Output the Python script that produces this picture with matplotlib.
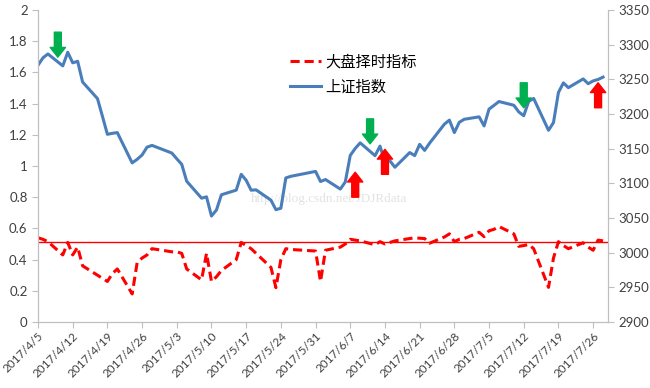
import numpy as np
import pandas as pd
import matplotlib
matplotlib.use("Agg")
import matplotlib.pyplot as plt

plt.rcParams['font.family'] = ['Lato', 'Noto Sans CJK SC', 'DejaVu Sans']

# trading days
dates = pd.to_datetime([
    "2017-04-05", "2017-04-06", "2017-04-07", "2017-04-10", "2017-04-11", "2017-04-12", "2017-04-13", "2017-04-14",
    "2017-04-17", "2017-04-18", "2017-04-19", "2017-04-20", "2017-04-21", "2017-04-24", "2017-04-25", "2017-04-26",
    "2017-04-27", "2017-04-28", "2017-05-02", "2017-05-03", "2017-05-04", "2017-05-05", "2017-05-08", "2017-05-09",
    "2017-05-10", "2017-05-11", "2017-05-12", "2017-05-15", "2017-05-16", "2017-05-17", "2017-05-18", "2017-05-19",
    "2017-05-22", "2017-05-23", "2017-05-24", "2017-05-25", "2017-05-26", "2017-05-31", "2017-06-01", "2017-06-02",
    "2017-06-05", "2017-06-06", "2017-06-07", "2017-06-08", "2017-06-09", "2017-06-12", "2017-06-13", "2017-06-14",
    "2017-06-15", "2017-06-16", "2017-06-19", "2017-06-20", "2017-06-21", "2017-06-22", "2017-06-23", "2017-06-26",
    "2017-06-27", "2017-06-28", "2017-06-29", "2017-06-30", "2017-07-03", "2017-07-04", "2017-07-05", "2017-07-06",
    "2017-07-07", "2017-07-10", "2017-07-11", "2017-07-12", "2017-07-13", "2017-07-14", "2017-07-17", "2017-07-18",
    "2017-07-19", "2017-07-20", "2017-07-21", "2017-07-24", "2017-07-25", "2017-07-26", "2017-07-27", "2017-07-28",
])

# 上证指数 close
sh_index = [
    3270.3, 3281.0, 3286.6, 3269.4, 3289.0, 3273.8, 3276.0, 3246.1,
    3222.2, 3196.7, 3170.7, 3172.1, 3173.2, 3129.5, 3134.6, 3140.9,
    3152.2, 3154.7, 3143.7, 3135.4, 3127.4, 3103.0, 3078.6, 3080.5,
    3052.8, 3061.5, 3083.5, 3090.2, 3113.0, 3104.4, 3090.1, 3090.6,
    3075.7, 3062.0, 3064.1, 3107.8, 3110.1, 3117.2, 3102.6, 3105.5,
    3091.7, 3102.1, 3140.3, 3150.3, 3158.4, 3139.9, 3153.7, 3130.7,
    3132.5, 3123.2, 3144.4, 3140.0, 3156.2, 3147.5, 3157.9, 3185.4,
    3191.2, 3173.2, 3188.1, 3192.4, 3195.9, 3182.8, 3207.1, 3212.4,
    3218.0, 3212.6, 3203.0, 3197.5, 3218.2, 3222.4, 3176.5, 3187.6,
    3231.0, 3244.9, 3238.0, 3250.6, 3243.7, 3247.7, 3249.8, 3253.2,
]

# 大盘择时指标
timing = [
    0.54, 0.53, 0.515, 0.43, 0.51, 0.43, 0.48, 0.36,
    0.30, 0.28, 0.26, 0.31, 0.34, 0.18, 0.38, 0.41,
    0.43, 0.47, 0.45, 0.45, 0.44, 0.34, 0.27, 0.44,
    0.26, 0.29, 0.33, 0.40, 0.51, 0.49, 0.47, 0.44,
    0.35, 0.22, 0.40, 0.47, 0.465, 0.455, 0.26, 0.46,
    0.48, 0.50, 0.53, 0.525, 0.52, 0.495, 0.515, 0.50,
    0.51, 0.52, 0.535, 0.54, 0.537, 0.535, 0.505, 0.545,
    0.565, 0.515, 0.53, 0.535, 0.575, 0.547, 0.585, 0.594,
    0.612, 0.565, 0.485, 0.49, 0.497, 0.47, 0.222, 0.41,
    0.515, 0.49, 0.47, 0.508, 0.48, 0.46, 0.525, 0.52,
]

threshold = 0.515

# signal arrows: date, tip value on index axis, 'buy' (red, up) / 'sell' (green, down)
signal_dates = pd.to_datetime(["2017-04-09", "2017-06-11", "2017-07-12",
                               "2017-06-08", "2017-06-14", "2017-07-27"])
signal_tips = [3282, 3157, 3209, 3116, 3149, 3245]
signal_kind = ["sell", "sell", "sell", "buy", "buy", "buy"]
arrow_len = 36

tick_dates = pd.date_range("2017-04-05", "2017-07-26", freq="7D")
tick_labels = [f"{d.year}/{d.month}/{d.day}" for d in tick_dates]

fig = plt.figure(figsize=(6.5, 3.88), dpi=100)
ax = fig.add_axes([38 / 650, 66 / 388, 570 / 650, 312 / 388])
ax2 = ax.twinx()

grey = "#BFBFBF"
l1, = ax.plot(dates, timing, color="#FF0000", lw=2.2, ls=(0, (3, 1.6)), label="大盘择时指标")
ax.axhline(threshold, color="#FF0000", lw=1.0)
l2, = ax2.plot(dates, sh_index, color="#4A7EBB", lw=2.2, label="上证指数")

for d, tip, kind in zip(signal_dates, signal_tips, signal_kind):
    if kind == "sell":
        col, start = "#00B050", tip + arrow_len
    else:
        col, start = "#FF0000", tip - arrow_len
    ax2.annotate("", xy=(d, tip), xytext=(d, start),
                 arrowprops=dict(arrowstyle="simple,head_length=0.7,head_width=1.1,tail_width=0.5",
                                 color=col, mutation_scale=10, shrinkA=0, shrinkB=0))

ax.set_ylim(0, 2)
ax.set_yticks(np.arange(0, 2.01, 0.2))
ax.set_yticklabels(["0", "0.2", "0.4", "0.6", "0.8", "1", "1.2", "1.4", "1.6", "1.8", "2"])
ax2.set_ylim(2900, 3350)
ax2.set_yticks(np.arange(2900, 3351, 50))

ax.set_xlim(pd.Timestamp("2017-04-05"), pd.Timestamp("2017-07-29"))
ax.set_xticks(tick_dates)
ax.set_xticklabels(tick_labels, rotation=45, ha="right", rotation_mode="anchor")

for a in (ax, ax2):
    for s in a.spines.values():
        s.set_color(grey)
    a.spines["top"].set_visible(False)
    a.tick_params(colors=grey, labelcolor="#404040", labelsize=9.5, length=4)
ax.tick_params(axis="x", pad=2, labelsize=8.5)

ax2.legend(handles=[l1, l2], loc="upper left", bbox_to_anchor=(0.418, 0.90), frameon=False,
           fontsize=11, handlelength=2.0, handletextpad=0.3, labelspacing=0.7)

ax.text(0.51, 0.395, "http://blog.csdn.net/JDJRdata", transform=ax.transAxes, ha="center", va="center",
        fontsize=9.5, color="#E3E3E3", family=["Liberation Serif", "DejaVu Serif"])

fig.savefig("out.png", dpi=100)
